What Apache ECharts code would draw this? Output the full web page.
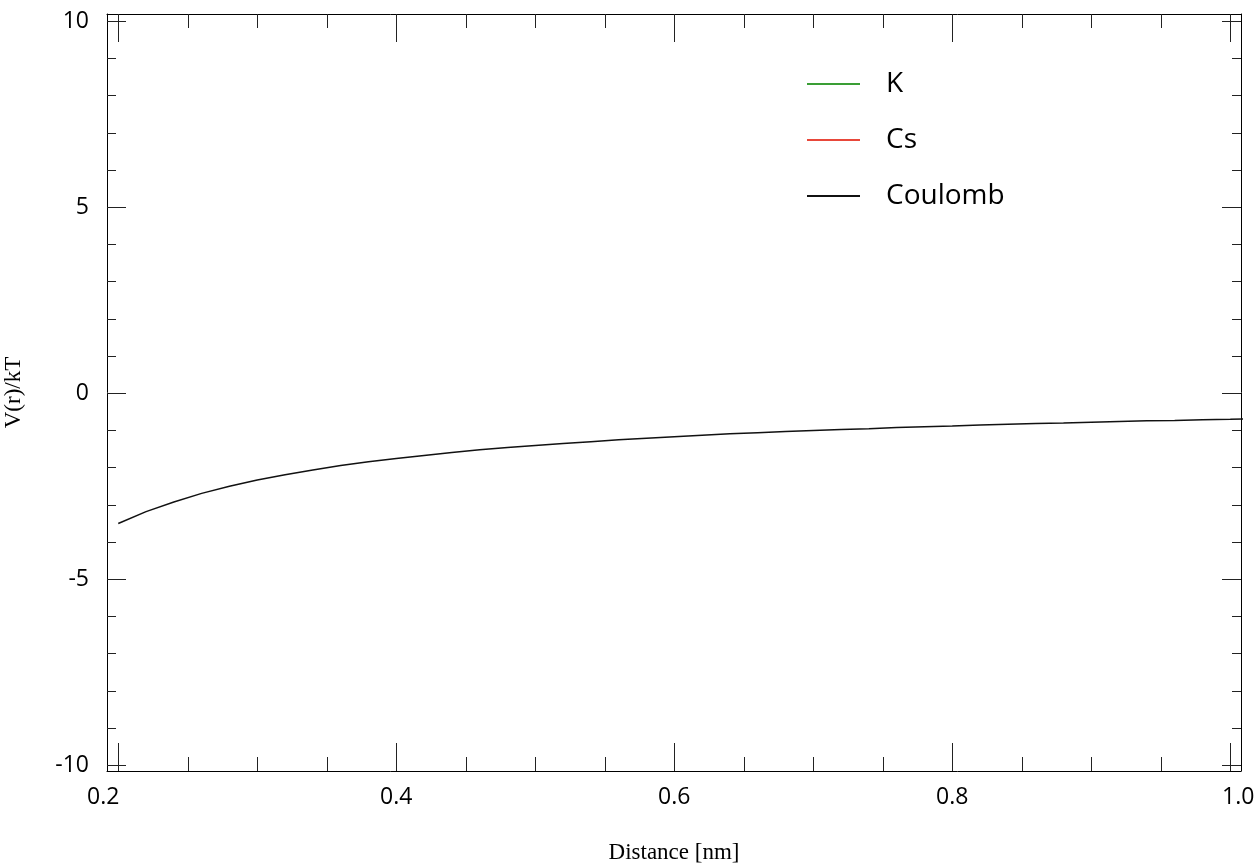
<!DOCTYPE html>
<html>
<head>
<meta charset="utf-8">
<script src="https://cdn.jsdelivr.net/npm/echarts@6/dist/echarts.min.js"></script>
<style>html,body{margin:0;padding:0;background:#fff;}#c{width:1259px;height:866px;}</style>
</head>
<body>
<div id="c"></div>
<script>
var seriesNames = ['K', 'Cs', 'Coulomb'];
var seriesColors = ['#3a9e35', '#e8473a', '#111111'];
var kData = [];
var csData = [];
var coulombR = [0.20,0.22,0.24,0.26,0.28,0.30,0.32,0.34,0.36,0.38,0.40,0.42,0.44,0.46,0.48,0.50,0.52,0.54,0.56,0.58,0.60,0.62,0.64,0.66,0.68,0.70,0.72,0.74,0.76,0.78,0.80,0.82,0.84,0.86,0.88,0.90,0.92,0.94,0.96,0.98,1.00,1.01];
var coulombV = [-3.50,-3.18,-2.92,-2.69,-2.50,-2.33,-2.19,-2.06,-1.94,-1.84,-1.75,-1.67,-1.59,-1.52,-1.46,-1.40,-1.35,-1.30,-1.25,-1.21,-1.17,-1.13,-1.09,-1.06,-1.03,-1.00,-0.97,-0.95,-0.92,-0.90,-0.88,-0.85,-0.83,-0.81,-0.80,-0.78,-0.76,-0.74,-0.73,-0.71,-0.70,-0.69];
var xMajorTicks = [0.2, 0.4, 0.6, 0.8, 1.0];
var xMinorTicks = [0.25,0.3,0.35,0.45,0.5,0.55,0.65,0.7,0.75,0.85,0.9,0.95];
var yMajorTicks = [-10, -5, 0, 5, 10];
var yMinorTicks = [-9,-8,-7,-6,-4,-3,-2,-1,1,2,3,4,6,7,8,9];
var xRange = [0.1919, 1.0077];
var yRange = [-10.153, 10.196];

var coulombData = coulombR.map(function (r, i) { return [r, coulombV[i]]; });
var tickColor = '#222';
var lineStyle = { color: '#000', width: 1 };

function xAxisDef(pos, ticks, len, labels, showLine) {
  return {
    type: 'value', position: pos, min: xRange[0], max: xRange[1],
    axisLine: { show: showLine, lineStyle: lineStyle, onZero: false },
    splitLine: { show: false },
    axisTick: { show: true, inside: true, length: len, customValues: ticks, lineStyle: { color: tickColor, width: 1 } },
    axisLabel: labels ? {
      show: true, customValues: ticks, margin: 15, color: '#000',
      fontFamily: 'Open Sans', fontSize: 23,
      formatter: function (v) {
        var s = v.toFixed(1);
        if (Math.abs(v - 0.2) < 1e-6) return '{l|' + s + '}';
        if (Math.abs(v - 1.0) < 1e-6) return '{r|' + s + '}';
        return s;
      },
      rich: {
        l: { fontFamily: 'Open Sans', fontSize: 23, color: '#000', padding: [0, 30, 0, 0] },
        r: { fontFamily: 'Open Sans', fontSize: 23, color: '#000', padding: [0, 0, 0, 16] }
      }
    } : { show: false },
    name: labels && pos === 'bottom' ? 'Distance [nm]' : '',
    nameLocation: 'middle', nameGap: 70,
    nameTextStyle: { fontFamily: 'Liberation Serif', fontSize: 23, color: '#000' }
  };
}
function yAxisDef(pos, ticks, len, labels, showLine) {
  return {
    type: 'value', position: pos, min: yRange[0], max: yRange[1],
    axisLine: { show: showLine, lineStyle: lineStyle, onZero: false },
    splitLine: { show: false },
    axisTick: { show: true, inside: true, length: len, customValues: ticks, lineStyle: { color: tickColor, width: 1 } },
    axisLabel: labels ? {
      show: true, customValues: ticks, margin: 18, color: '#000',
      fontFamily: 'Open Sans', fontSize: 23
    } : { show: false },
    name: labels && pos === 'left' ? 'V(r)/kT' : '',
    nameLocation: 'middle', nameGap: 82,
    nameTextStyle: { fontFamily: 'Liberation Serif', fontSize: 23, color: '#000' }
  };
}

var chart = echarts.init(document.getElementById('c'), null, { renderer: 'canvas' });
chart.setOption({
  animation: false,
  backgroundColor: '#fff',
  grid: { left: 107, top: 14, right: 18, bottom: 95, containLabel: false, outerBoundsMode: 'none' },
  legend: {
    orient: 'vertical', left: 802, top: 65,
    data: seriesNames,
    icon: 'rect', itemWidth: 53, itemHeight: 2, itemGap: 28,
    textStyle: { fontFamily: 'Open Sans', fontSize: 28, color: '#000', lineHeight: 28, padding: [0, 0, 0, 21] }
  },
  xAxis: [
    xAxisDef('bottom', xMajorTicks, 28, true, true),
    xAxisDef('bottom', xMinorTicks, 14, false, false),
    xAxisDef('top', xMajorTicks, 28, false, true),
    xAxisDef('top', xMinorTicks, 14, false, false)
  ],
  yAxis: [
    yAxisDef('left', yMajorTicks, 19, true, true),
    yAxisDef('left', yMinorTicks, 9, false, false),
    yAxisDef('right', yMajorTicks, 19, false, true),
    yAxisDef('right', yMinorTicks, 9, false, false)
  ],
  series: [
    { name: seriesNames[0], type: 'line', data: kData, showSymbol: false, color: seriesColors[0], lineStyle: { width: 1.5 } },
    { name: seriesNames[1], type: 'line', data: csData, showSymbol: false, color: seriesColors[1], lineStyle: { width: 1.5 } },
    { name: seriesNames[2], type: 'line', data: coulombData, showSymbol: false, clip: false, color: seriesColors[2], lineStyle: { width: 1.5 } }
  ]
});
</script>
</body>
</html>
